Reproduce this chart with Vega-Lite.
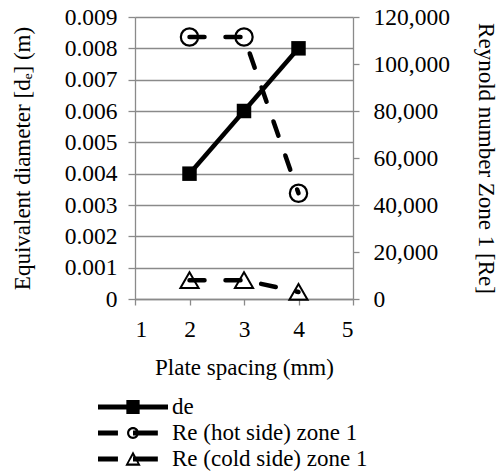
{
  "$schema": "https://vega.github.io/schema/vega-lite/v6.json",
  "width": 218,
  "height": 282,
  "autosize": "none",
  "padding": {"left": 135, "top": 17, "right": 148, "bottom": 174},
  "background": "white",
  "config": {
    "font": "Liberation Serif",
    "view": {"stroke": null},
    "axis": {
      "labelFont": "Liberation Serif",
      "titleFont": "Liberation Serif",
      "labelFontSize": 23.5,
      "titleFontSize": 23,
      "labelColor": "black",
      "titleColor": "black",
      "titleFontWeight": "normal",
      "domainColor": "#8a8a8a",
      "tickColor": "#8a8a8a",
      "gridColor": "#8a8a8a",
      "domainWidth": 1.3,
      "tickWidth": 1.3,
      "gridWidth": 1.3
    },
    "legend": {
      "labelFont": "Liberation Serif",
      "labelFontSize": 23,
      "labelColor": "black",
      "labelLimit": 0
    }
  },
  "datasets": {
    "de": [
      {"x": 2, "de": 0.004},
      {"x": 3, "de": 0.006},
      {"x": 4, "de": 0.008}
    ],
    "hot": [
      {"x": 2, "Re": 111500, "series": "Re (hot side) zone 1"},
      {"x": 3, "Re": 111500, "series": "Re (hot side) zone 1"},
      {"x": 4, "Re": 45000, "series": "Re (hot side) zone 1"}
    ],
    "cold": [
      {"x": 2, "Re": 8000, "series": "Re (cold side) zone 1"},
      {"x": 3, "Re": 8000, "series": "Re (cold side) zone 1"},
      {"x": 4, "Re": 3000, "series": "Re (cold side) zone 1"}
    ]
  },
  "encoding": {
    "x": {
      "field": "x",
      "type": "quantitative",
      "scale": {"domain": [1, 5], "nice": false, "zero": false},
      "axis": {
        "title": "Plate spacing (mm)",
        "values": [1, 2, 3, 4, 5],
        "grid": false,
        "tickSize": 6,
        "labelPadding": 12,
        "titlePadding": 16
      }
    }
  },
  "layer": [
    {
      "data": {"name": "de"},
      "encoding": {
        "y": {
          "field": "de",
          "type": "quantitative",
          "scale": {"domain": [0, 0.009], "nice": false},
          "axis": {
            "orient": "left",
            "title": "Equivalent diameter [dₑ] (m)",
            "values": [0, 0.001, 0.002, 0.003, 0.004, 0.005, 0.006, 0.007, 0.008, 0.009],
            "labelExpr": "datum.value == 0 ? '0' : format(datum.value, '.3f')",
            "grid": true,
            "tickSize": 7,
            "labelPadding": 11,
            "titlePadding": 30
          }
        }
      },
      "layer": [
        {"mark": {"type": "line", "color": "black", "strokeWidth": 4.5}},
        {"mark": {"type": "point", "shape": "square", "filled": true, "color": "black", "size": 210, "opacity": 1}}
      ]
    },
    {
      "encoding": {
        "y": {
          "field": "Re",
          "type": "quantitative",
          "scale": {"domain": [0, 120000], "nice": false},
          "axis": {
            "orient": "right",
            "title": "Reynold number Zone 1 [Re]",
            "values": [0, 20000, 40000, 60000, 80000, 100000, 120000],
            "labelExpr": "format(datum.value, ',.0f')",
            "grid": false,
            "tickSize": 6,
            "labelPadding": 14,
            "titlePadding": 24
          }
        }
      },
      "layer": [
        {"data": {"name": "hot"}, "mark": {"type": "line", "color": "black", "strokeWidth": 4.5, "strokeDash": [15, 21], "strokeCap": "round"}},
        {"data": {"name": "hot"}, "mark": {"type": "point", "shape": "circle", "filled": false, "color": "black", "strokeWidth": 2.2, "size": 300, "opacity": 1}},
        {"data": {"name": "cold"}, "mark": {"type": "line", "color": "black", "strokeWidth": 4.5, "strokeDash": [15, 21], "strokeCap": "round"}},
        {"data": {"name": "cold"}, "mark": {"type": "point", "shape": "triangle-up", "filled": false, "color": "black", "strokeWidth": 2, "size": 330, "opacity": 1}}
      ]
    },
    {
      "data": {"name": "hot"},
      "transform": [{"filter": "false"}],
      "mark": {"type": "point", "filled": true, "color": "black", "opacity": 1},
      "encoding": {
        "shape": {
          "field": "series",
          "type": "nominal",
          "scale": {
            "domain": ["de", "Re (hot side) zone 1", "Re (cold side) zone 1"],
            "range": [
              "M-1,-0.07H1V0.07H-1Z M-0.19,-0.2H0.19V0.2H-0.19Z",
              "M-1,-0.07H-0.43V0.07H-1Z M0,-0.07H0.71V0.07H0Z M0.17,0A0.17,0.17 0 1,1 -0.17,0A0.17,0.17 0 1,1 0.17,0Z M0.11,0A0.11,0.11 0 1,0 -0.11,0A0.11,0.11 0 1,0 0.11,0Z",
              "M-1,-0.07H-0.43V0.07H-1Z M0,-0.07H0.71V0.07H0Z M0,-0.22L0.22,0.19L-0.22,0.19Z M0,-0.1L-0.13,0.13L0.13,0.13Z"
            ]
          },
          "legend": {
            "title": null,
            "orient": "none",
            "legendX": -37,
            "legendY": 381,
            "direction": "vertical",
            "symbolSize": 4900,
            "symbolStrokeWidth": 0,
            "symbolFillColor": "black",
            "symbolOpacity": 1,
            "clipHeight": 18,
            "labelOffset": 4,
            "rowPadding": 3
          }
        }
      }
    }
  ],
  "resolve": {"scale": {"y": "independent"}}
}
